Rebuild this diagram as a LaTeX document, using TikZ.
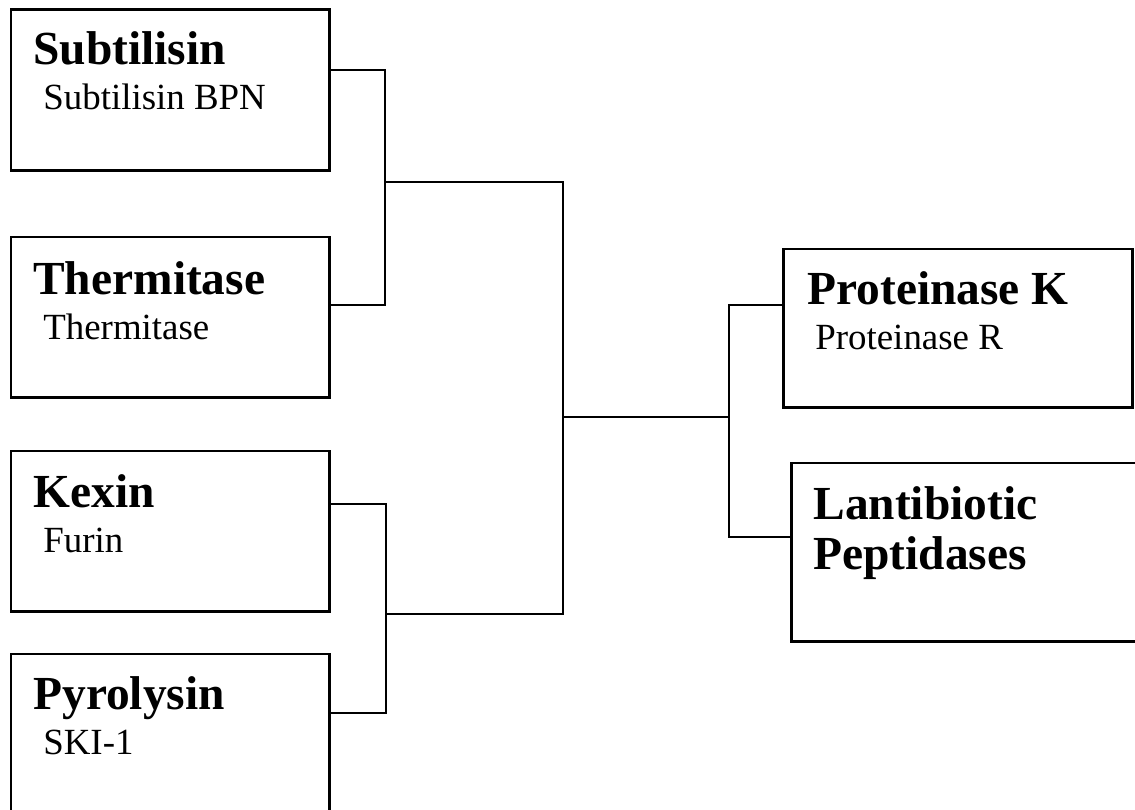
\documentclass[tikz,border=0pt]{standalone}
\usepackage{fontspec}
\setmainfont{Liberation Serif}
\usetikzlibrary{positioning}
\tikzset{famil/.style={draw=black, line width=1.7pt, inner sep=0pt, outer sep=0pt, anchor=north west, minimum width=6.38cm, minimum height=3.22cm},
  ttl/.style={anchor=base west, inner sep=0pt, font=\fontsize{27}{30}\selectfont\bfseries},
  sub/.style={anchor=base west, inner sep=0pt, font=\fontsize{21}{24}\selectfont},
  link/.style={draw=black, line width=1.5pt}}

\begin{document}
\begin{tikzpicture}[x=0.02cm, y=-0.02cm]
    \clip (0,0) rectangle (1135,810);
    % left families
    \node[famil] (subt) at (11,10) {};
    \node[famil] (therm) at (11,237) {};
    \node[famil] (kex) at (11,451) {};
    \node[famil, minimum height=3.8cm] (pyro) at (11,654) {};
    % right families
    \node[famil, minimum width=7cm, minimum height=3.18cm] (protk) at (783,249) {};
    \node[famil, minimum width=7.6cm, minimum height=3.58cm] (lanti) at (791,463) {};

    \node[ttl] (subt-t) at ([xshift=0.44cm, yshift=-1.1cm]subt.north west) {Subtilisin};
    \node[sub] (subt-s) at ([xshift=0.64cm, yshift=-2cm]subt.north west) {Subtilisin BPN};
    \node[ttl] (therm-t) at ([xshift=0.44cm, yshift=-1.16cm]therm.north west) {Thermitase};
    \node[sub] (therm-s) at ([xshift=0.64cm, yshift=-2.06cm]therm.north west) {Thermitase};
    \node[ttl] (kex-t) at ([xshift=0.44cm, yshift=-1.14cm]kex.north west) {Kexin};
    \node[sub] (kex-s) at ([xshift=0.64cm, yshift=-2.04cm]kex.north west) {Furin};
    \node[ttl] (pyro-t) at ([xshift=0.44cm, yshift=-1.12cm]pyro.north west) {Pyrolysin};
    \node[sub] (pyro-s) at ([xshift=0.64cm, yshift=-2.02cm]pyro.north west) {SKI-1};
    \node[ttl] (protk-t) at ([xshift=0.48cm, yshift=-1.12cm]protk.north west) {Proteinase K};
    \node[sub] (protk-s) at ([xshift=0.64cm, yshift=-2.02cm]protk.north west) {Proteinase R};
    \node[ttl] (lanti-t) at ([xshift=0.44cm, yshift=-1.14cm]lanti.north west) {Lantibiotic};
    \node[ttl] (lanti-s) at ([xshift=0.44cm, yshift=-2.14cm]lanti.north west) {Peptidases};

    % junctions
    \coordinate (top) at (385,182);
    \coordinate (bot) at (386,614);
    \coordinate (mid) at (563,417);
    \coordinate (rgt) at (729,417);

    \draw[link] ([yshift=-1.2cm]subt.north east) -| (top) |- ([yshift=-1.36cm]therm.north east);
    \draw[link] ([yshift=-1.06cm]kex.north east) -| (bot) |- ([yshift=-1.18cm]pyro.north east);
    \draw[link] (top) -| (mid) |- (bot);
    \draw[link] (mid) -- (rgt);
    \draw[link] ([yshift=-1.12cm]protk.north west) -| (rgt) |- ([yshift=-1.48cm]lanti.north west);
\end{tikzpicture}
\end{document}
